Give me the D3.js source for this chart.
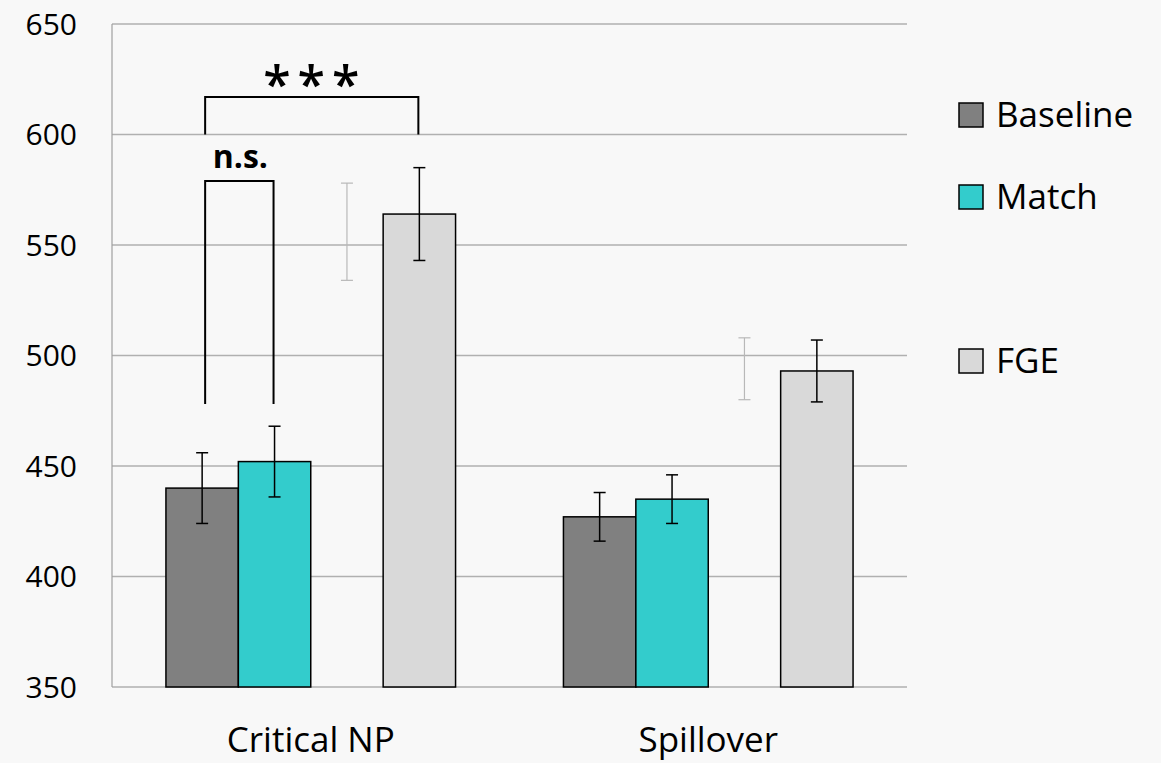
<!DOCTYPE html>
<html>
<head>
<meta charset="utf-8">
<script src="https://cdn.jsdelivr.net/npm/d3@7"></script>
<style>
    body { margin: 0; background: #f8f8f8; }
    svg { display: block; font-family: "Open Sans", "Noto Sans", sans-serif; }
</style>
</head>
<body>
<script>
// chart values
const categories  = ["Critical NP", "Spillover"];
const seriesNames = ["Baseline", "Match", "", "FGE"];   // 3rd series is an invisible bar (only its error bar shows)
const baseline    = [440, 427];
const baselineErr = [16, 11];
const match       = [452, 435];
const matchErr    = [16, 11];
const hidden      = [556, 494];
const hiddenErr   = [22, 14];
const fge         = [564, 493];
const fgeErr      = [21, 14];
const yTicks      = [350, 400, 450, 500, 550, 600, 650];

// significance brackets: [from series, to series, top value, leg bottom value, label]
const brackets = [
    { cat: "Critical NP", from: "Baseline", to: "FGE",   top: 617, bottom: 600, label: "***" },
    { cat: "Critical NP", from: "Baseline", to: "Match", top: 579, bottom: 478, label: "n.s." }
];

const values = [baseline, match, hidden, fge];
const errs   = [baselineErr, matchErr, hiddenErr, fgeErr];
const colors = ["#808080", "#33cccc", "none", "#d9d9d9"];

const rows = [];
categories.forEach((c, ci) => {
    seriesNames.forEach((s, si) => {
        rows.push({ cat: c, si: si, value: values[si][ci], err: errs[si][ci] });
    });
});

function drawChart() {
    const width = 1161;
    const height = 763;
    const left = 112, right = 907, top = 24, bottom = 687;

    const x0 = d3.scaleBand()
        .domain(categories)
        .range([left, right])
        .paddingInner(0.2714)
        .paddingOuter(0.1357);

    const x1 = d3.scaleBand()
        .domain(d3.range(seriesNames.length))
        .range([0, x0.bandwidth()]);

    const y = d3.scaleLinear()
        .domain([350, 650])
        .range([bottom, top]);

    const svg = d3.select("body").append("svg")
        .attr("width", width)
        .attr("height", height);

    // gridlines
    svg.append("g")
        .selectAll("line")
        .data(yTicks)
        .enter()
        .append("line")
            .attr("x1", left)
            .attr("x2", right)
            .attr("y1", d => y(d))
            .attr("y2", d => y(d))
            .attr("stroke", "#b0b0b0")
            .attr("stroke-width", 1.5);

    // left axis line
    svg.append("line")
        .attr("x1", left).attr("x2", left)
        .attr("y1", top).attr("y2", bottom)
        .attr("stroke", "#a0a0a0")
        .attr("stroke-width", 1.2);

    // y tick labels
    svg.append("g")
        .selectAll("text")
        .data(yTicks)
        .enter()
        .append("text")
            .attr("x", 77)
            .attr("y", d => y(d))
            .attr("dy", "0.36em")
            .attr("text-anchor", "end")
            .attr("font-size", 30)
            .attr("fill", "#000")
            .text(d => d);

    // bars
    const bars = rows.filter(d => colors[d.si] !== "none");
    svg.append("g")
        .selectAll("rect")
        .data(bars)
        .enter()
        .append("rect")
            .attr("x", d => x0(d.cat) + x1(d.si))
            .attr("y", d => y(d.value))
            .attr("width", x1.bandwidth())
            .attr("height", d => y(350) - y(d.value))
            .attr("fill", d => colors[d.si])
            .attr("stroke", "#000")
            .attr("stroke-width", 1.5);

    // error bars
    const cx = d => x0(d.cat) + x1(d.si) + x1.bandwidth() / 2;
    const eb = svg.append("g")
        .selectAll("g")
        .data(rows)
        .enter()
        .append("g")
            .attr("stroke", d => colors[d.si] === "none" ? "#b8b8b8" : "#000")
            .attr("stroke-width", d => colors[d.si] === "none" ? 1.2 : 1.5);

    eb.append("line")
        .attr("x1", cx).attr("x2", cx)
        .attr("y1", d => y(d.value + d.err))
        .attr("y2", d => y(d.value - d.err));
    eb.append("line")
        .attr("x1", d => cx(d) - 6).attr("x2", d => cx(d) + 6)
        .attr("y1", d => y(d.value + d.err))
        .attr("y2", d => y(d.value + d.err));
    eb.append("line")
        .attr("x1", d => cx(d) - 6).attr("x2", d => cx(d) + 6)
        .attr("y1", d => y(d.value - d.err))
        .attr("y2", d => y(d.value - d.err));

    // significance brackets
    const bx = (cat, s) => x0(cat) + x1(seriesNames.indexOf(s)) + x1.bandwidth() / 2;
    const br = svg.append("g")
        .selectAll("g")
        .data(brackets)
        .enter()
        .append("g");

    br.append("path")
        .attr("fill", "none")
        .attr("stroke", "#000")
        .attr("stroke-width", 2)
        .attr("d", d => {
            const xa = bx(d.cat, d.from) + 3, xb = bx(d.cat, d.to) - 1;
            return `M${xa},${y(d.bottom)}V${y(d.top)}H${xb}V${y(d.bottom)}`;
        });

    br.append("text")
        .attr("x", d => (bx(d.cat, d.from) + bx(d.cat, d.to)) / 2 + (d.label === "***" ? 4 : 2))
        .attr("y", d => d.label === "***" ? y(d.top) + 5 : y(d.top) - 13)
        .attr("text-anchor", "middle")
        .attr("font-size", d => d.label === "***" ? 50 : 32)
        .attr("font-weight", d => d.label === "***" ? 600 : "bold")
        .attr("letter-spacing", d => d.label === "***" ? 7 : 0)
        .attr("fill", "#000")
        .text(d => d.label);

    // category labels
    svg.append("g")
        .selectAll("text")
        .data(categories)
        .enter()
        .append("text")
            .attr("x", d => x0(d) + x0.bandwidth() / 2)
            .attr("y", 752)
            .attr("text-anchor", "middle")
            .attr("font-size", 35)
            .attr("fill", "#000")
            .text(d => d);

    // legend
    const legend = svg.append("g")
        .selectAll("g")
        .data(seriesNames)
        .enter()
        .append("g")
            .attr("transform", (d, i) => `translate(959, ${103 + i * 82})`);

    legend.filter((d, i) => colors[i] !== "none")
        .append("rect")
            .attr("width", 24)
            .attr("height", 24)
            .attr("fill", (d, i) => colors[seriesNames.indexOf(d)])
            .attr("stroke", "#000")
            .attr("stroke-width", 1.5);

    legend.append("text")
        .attr("x", 37)
        .attr("y", 24)
        .attr("font-size", 35)
        .attr("fill", "#000")
        .text(d => d);
}

drawChart();
</script>
</body>
</html>
